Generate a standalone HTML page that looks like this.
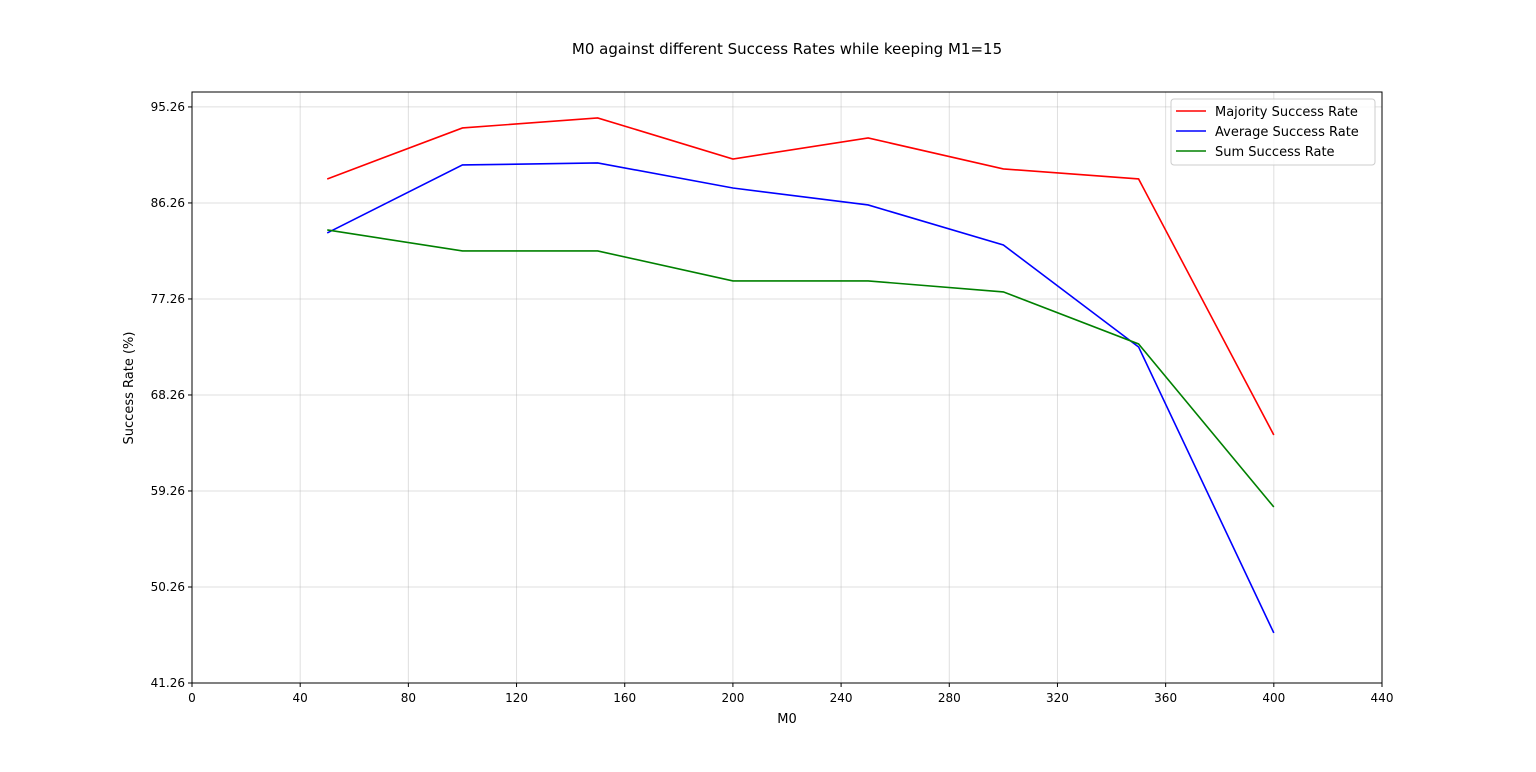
<!DOCTYPE html>
<html><head><meta charset="utf-8"><style>
body{margin:0;background:#fff;font-family:"Liberation Sans","DejaVu Sans",sans-serif}
svg text{font-family:"DejaVu Sans","Liberation Sans",sans-serif}
</style></head><body>
<svg id="chart" width="1536" height="767"></svg>
<script>
const xValues=[50,100,150,200,250,300,350,400];
const majority=[88.51,93.29,94.23,90.38,92.35,89.45,88.51,64.51];
const average=[83.45,89.82,90.01,87.66,86.07,82.32,72.76,45.95];
const sumRate=[83.73,81.76,81.76,78.95,78.95,77.92,73.04,57.76];
const xTicks=[0,40,80,120,160,200,240,280,320,360,400,440];
const yTicks=[41.26,50.26,59.26,68.26,77.26,86.26,95.26];
const seriesNames=["Majority Success Rate","Average Success Rate","Sum Success Rate"];
const seriesColors=["#ff0000","#0000ff","#008000"];

const L=192,R=1382,T=92,B=683;
const xMin=0,xMax=440,yMin=41.26,yMax=96.66;
const sx=v=>L+(v-xMin)/(xMax-xMin)*(R-L);
const sy=v=>B-(v-yMin)/(yMax-yMin)*(B-T);
const NS="http://www.w3.org/2000/svg";
const svg=document.getElementById('chart');
function mk(tag,attrs,parent){const e=document.createElementNS(NS,tag);for(const k in attrs)e.setAttribute(k,attrs[k]);(parent||svg).appendChild(e);return e;}

const title=mk('text',{x:787,y:54,'text-anchor':'middle','font-size':15});
title.textContent="M0 against different Success Rates while keeping M1=15";



xTicks.forEach(t=>{
  const g=mk('line',{x1:sx(t),x2:sx(t),y1:T,y2:B,stroke:'#b0b0b0','stroke-opacity':0.4,'stroke-width':1});
  
  
  mk('line',{x1:sx(t),x2:sx(t),y1:B,y2:B+4,stroke:'#000'});
  const tx=mk('text',{x:sx(t),y:B+19,'text-anchor':'middle','font-size':12});
  tx.textContent=t;
  
  
});
yTicks.forEach(t=>{
  const g=mk('line',{x1:L,x2:R,y1:sy(t),y2:sy(t),stroke:'#b0b0b0','stroke-opacity':0.4,'stroke-width':1});
  
  
  mk('line',{x1:L-4,x2:L,y1:sy(t),y2:sy(t),stroke:'#000'});
  const tx=mk('text',{x:L-7,y:sy(t)+4,'text-anchor':'end','font-size':12});
  tx.textContent=t.toFixed(2);
  
  
});

[majority,average,sumRate].forEach((s,i)=>{
  const p=mk('polyline',{points:s.map((v,j)=>sx(xValues[j])+','+sy(v)).join(' '),fill:'none',stroke:seriesColors[i],'stroke-width':1.6});
  
  
});

const frame=mk('rect',{x:L,y:T,width:R-L,height:B-T,fill:'none',stroke:'#000','stroke-width':1});



const xl=mk('text',{x:787,y:723,'text-anchor':'middle','font-size':13});
xl.textContent="M0";


const yl=mk('text',{x:133,y:388,'text-anchor':'middle','font-size':13,transform:'rotate(-90 133 388)'});
yl.textContent="Success Rate (%)";



const lg=mk('rect',{x:1171,y:99,width:204,height:66,rx:3,fill:'#fff','fill-opacity':0.8,stroke:'#ccc'});


seriesNames.forEach((n,i)=>{
  const y=111+i*20;
  const ln=mk('line',{x1:1176,x2:1206,y1:y,y2:y,stroke:seriesColors[i],'stroke-width':1.6});
  
  
  const tx=mk('text',{x:1215,y:y+5,'font-size':13});
  tx.textContent=n;
  
  
});
</script>
</body></html>
